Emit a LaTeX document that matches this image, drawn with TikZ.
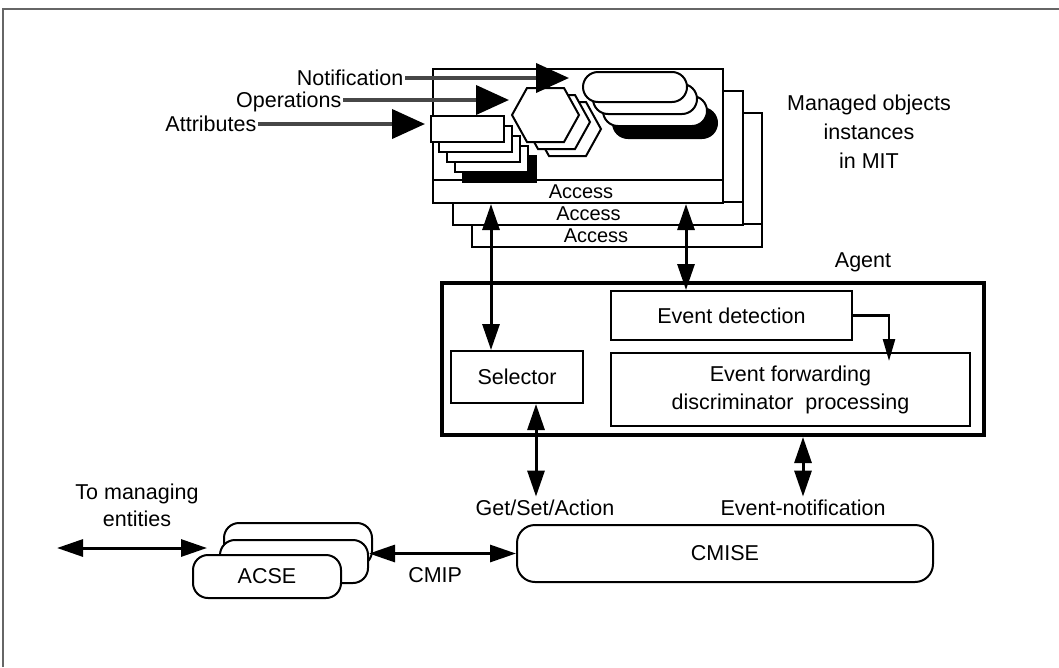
\documentclass[tikz,border=0pt]{standalone}
\usepackage{fontspec}
\setmainfont{Liberation Sans}
\usetikzlibrary{arrows.meta,positioning}

\begin{document}
\begin{tikzpicture}[x=1pt,y=-1pt,
  font=\fontsize{21.5}{28}\selectfont,
  frameline/.style={draw=black!60,line width=1.5pt},
  layer/.style={draw,line width=2pt,fill=white},
  strip/.style={draw,line width=2pt,fill=white,minimum width=290pt,minimum height=23pt,inner sep=0pt},
  objbox/.style={draw,line width=2pt,minimum width=73pt,minimum height=26pt,inner sep=0pt},
  pill/.style={draw,line width=2pt,rounded corners=15pt,minimum width=104pt,minimum height=30pt,inner sep=0pt},
  hexa/.style={draw,line width=2pt,fill=white},
  plainbox/.style={draw,line width=2pt,fill=white,inner sep=0pt,align=center},
  agentbox/.style={draw,line width=4pt,minimum width=542pt,minimum height=152pt},
  roundbox/.style={draw,line width=2pt,rounded corners=15pt,fill=white,inner sep=0pt},
  inlbl/.style={anchor=east,inner sep=1.5pt,text height=15.4pt,text depth=0pt},
  inarrow/.style={draw=black!72,line width=4pt,-{Triangle[length=33pt,width=29pt,color=black]}},
  dbl/.style={line width=3pt,{Triangle[length=26pt,width=17pt]}-{Triangle[length=26pt,width=17pt]}},
  sgl/.style={line width=2.5pt,-{Triangle[length=22pt,width=12pt]}}]
\useasboundingbox (0,0) rectangle (1059,667);
\draw[frameline] (3,667) -- (3,9) -- (1059,9);

% managed object instances
\foreach \i in {2,1,0}{
  \draw[layer] ({433+19.5*\i},{69+22*\i}) rectangle ++(290,134);
  \node[strip] (acc\i) at ({578+19.5*\i},{191.5+22*\i}) {};
  \node[font=\fontsize{20}{22}\selectfont] (acctxt\i) at ({581+7.5*\i},{191.5+22*\i}) {Access};
}
\foreach \i/\c in {4/black,3/white,2/white,1/white,0/white}
  \node[objbox,fill=\c] (obj\i) at ({467.5+8*\i},{129+10*\i}) {};
\foreach \i in {2,1,0}
  \draw[hexa] ({512+11*\i},{115+7*\i}) -- ++(15,-27) -- ++(37,0) -- ++(15,27) -- ++(-15,27) -- ++(-37,0) -- cycle;
\coordinate (hex0) at (512,115);
\foreach \i/\c in {3/black,2/white,1/white,0/white}
  \node[pill,fill=\c] (pill\i) at ({635+10*\i},{87+12*\i}) {};

\node[inlbl] (lnotif) at (405,78) {Notification};
\node[inlbl] (lops) at (343,100) {Operations};
\node[inlbl] (lattr) at (258,124) {Attributes};
\draw[inarrow,shorten >=13pt] (lnotif.east) -- (lnotif.east -| pill0.west);
\draw[inarrow,shorten >=3pt] (lops.east) -- (lops.east -| hex0);
\draw[inarrow,shorten >=5pt] (lattr.east) -- (lattr.east -| obj0.west);

\node[align=center,font=\fontsize{21.5}{29}\selectfont] (molbl) at (869,132) {Managed objects\\instances\\in MIT};

% agent
\node (agentlbl) at (863,262) {Agent};
\node[agentbox] (agent) at (713,359) {};
\node[plainbox,minimum width=132pt,minimum height=52pt] (sel) at (517,377) {Selector};
\node[plainbox,minimum width=241pt,minimum height=49pt] (evdet) at (731.5,315.5) {Event detection};
\node[plainbox,minimum width=359pt,minimum height=73pt] (evfwd) at (790.5,389.5) {Event forwarding\\discriminator\ \ processing};

\draw[dbl] ([xshift=-26pt]sel.north) -- ([xshift=-26pt]sel.north |- acc0.south);
\draw[dbl] ([xshift=-45.5pt]evdet.north) -- ([xshift=-45.5pt]evdet.north |- acc0.south);
\draw[sgl] (evdet.east) -| ([xshift=98.5pt,yshift=-9pt]evfwd.north);

\node (gsa) at (545,508) {Get/Set/Action};
\node (evn) at (803,508) {Event-notification};
\draw[dbl] ([xshift=19pt]sel.south) -- ([xshift=19pt]sel.south |- gsa.north);
\draw[dbl] (evn.north) -- (evn.north |- agent.south);

% protocol entities
\node[roundbox,minimum width=416pt,minimum height=57pt,rounded corners=18pt] (cmise) at (725,553.5) {CMISE};
\node[roundbox,minimum width=148pt,minimum height=43pt] (acse2) at (298,544.5) {};
\node[roundbox,minimum width=148pt,minimum height=43pt] (acse1) at (294,561.5) {};
\node[roundbox,minimum width=148pt,minimum height=43pt] (acse0) at (267,576.5) {ACSE};
\draw[dbl] (cmise.west -| acse1.east) -- node[pos=0.45,below=9pt] (cmip) {CMIP} (cmise.west);

\coordinate (farend) at (57,548);
\draw[dbl] (farend) -- ([xshift=-12pt]acse1.west |- farend);
\node[align=center,font=\fontsize{21.5}{27}\selectfont] (tomgr) at (137,505) {To managing\\entities};
\end{tikzpicture}
\end{document}
